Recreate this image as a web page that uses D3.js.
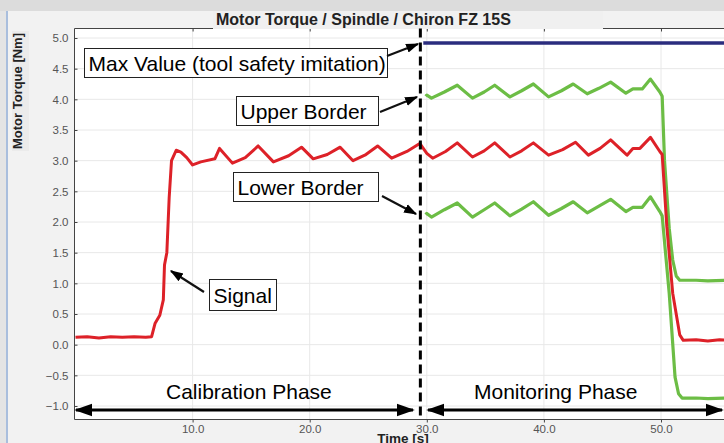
<!DOCTYPE html>
<html>
<head>
<meta charset="utf-8">
<style>
  html, body { margin:0; padding:0; background:#f2f2f2; }
  svg { display:block; font-family:"Liberation Sans", Arial, sans-serif; }
  .axis text { fill:#555; font-size:11.5px; }
  .axis path, .axis line { stroke:#444; }
</style>
<script src="https://d3js.org/d3.v7.min.js"></script>
</head>
<body>
<svg id="chart" width="724" height="443"></svg>
<script>
// data: [time s, torque Nm]
var signal = [[0,0.12],[1,0.13],[2,0.11],[3,0.13],[4,0.12],[5,0.13],[6,0.12],[6.5,0.13],[6.8,0.35],[7.2,0.48],[7.5,0.73],[7.6,1.3],[7.8,1.5],[8.0,2.4],[8.2,3.0],[8.6,3.17],[9.0,3.14],[9.5,3.05],[10.0,2.93],[10.7,2.98],[11.9,3.03],[12.3,3.2],[13.4,2.96],[14.5,3.05],[15.6,3.24],[16.9,2.98],[18.2,3.08],[19.3,3.22],[20.3,3.03],[21.5,3.1],[22.6,3.22],[23.7,3.0],[24.8,3.1],[25.8,3.24],[27.0,3.04],[28.3,3.15],[29.4,3.28],[30.0,3.12],[30.5,3.04],[31.6,3.15],[32.6,3.29],[33.9,3.06],[34.9,3.16],[35.8,3.29],[37.1,3.06],[38.1,3.16],[39.1,3.29],[40.4,3.09],[41.6,3.18],[42.7,3.30],[43.8,3.09],[44.8,3.2],[45.7,3.34],[47.1,3.09],[47.6,3.2],[48.2,3.2],[49.1,3.38],[49.9,3.15],[50.1,3.1],[50.5,1.92],[51.0,0.84],[51.6,0.16],[51.9,0.07],[53,0.08],[54,0.06],[55,0.08],[56,0.07]];

var upperBorder = [[29.9,4.05],[30.0,4.07],[30.4,4.02],[31.5,4.12],[32.6,4.23],[33.9,4.02],[34.9,4.12],[35.8,4.23],[37.1,4.04],[38.1,4.14],[39.1,4.25],[40.4,4.04],[41.5,4.14],[42.5,4.25],[43.7,4.09],[44.7,4.18],[45.7,4.28],[47.0,4.1],[47.6,4.17],[48.4,4.17],[49.1,4.33],[49.9,4.12],[50.1,4.05],[50.3,3.0],[50.7,1.9],[51.0,1.38],[51.3,1.12],[51.6,1.05],[53,1.05],[54,1.04],[56,1.05]];

var lowerBorder = [[29.9,2.12],[30.0,2.14],[30.4,2.08],[31.5,2.2],[32.6,2.31],[33.9,2.08],[34.9,2.2],[35.8,2.31],[37.1,2.1],[38.1,2.21],[39.1,2.33],[40.4,2.11],[41.5,2.22],[42.5,2.33],[43.7,2.15],[44.7,2.26],[45.7,2.37],[47.0,2.17],[47.6,2.24],[48.4,2.24],[49.1,2.41],[49.9,2.17],[50.1,2.1],[50.7,0.84],[51.2,-0.53],[51.5,-0.8],[51.8,-0.87],[53,-0.87],[54,-0.88],[56,-0.87]];

var maxValue = [[29.7,4.92],[56,4.92]];

var xTicks = [10, 20, 30, 40, 50];
var yTicks = [-1.0, -0.5, 0.0, 0.5, 1.0, 1.5, 2.0, 2.5, 3.0, 3.5, 4.0, 4.5, 5.0];
var phaseSplit = 29.45;

var svg = d3.select('#chart');

var pL = 74.5, pT = 28.5, pB = 419.5, pR = 740;
var x = d3.scaleLinear().domain([0, 56]).range([75.5, 75.5 + 56 * 11.71]);
var y = d3.scaleLinear().domain([-1, 5]).range([406, 38]);

// window chrome
svg.append('rect').attr('x', 0).attr('y', 0).attr('width', 724).attr('height', 11).attr('fill', '#dcdcdc');
svg.append('rect').attr('x', 0).attr('y', 11).attr('width', 6).attr('height', 432).attr('fill', '#e4e4e4');
svg.append('rect').attr('x', 6).attr('y', 11).attr('width', 2).attr('height', 432).attr('fill', '#a9bedd');
svg.append('rect').attr('x', 12).attr('y', 31).attr('width', 17).attr('height', 120).attr('fill', '#ebebeb');

// plot area
svg.append('rect').attr('x', pL).attr('y', pT).attr('width', pR - pL).attr('height', pB - pT).attr('fill', '#fff');

var defs = svg.append('defs');
defs.append('clipPath').attr('id', 'clip')
  .append('rect').attr('x', pL).attr('y', pT).attr('width', pR - pL).attr('height', pB - pT);

// grid
svg.append('g').selectAll('line').data(yTicks).enter().append('line')
  .attr('x1', pL).attr('x2', pR).attr('y1', function (d) { return y(d); }).attr('y2', function (d) { return y(d); })
  .attr('stroke', '#e8e8e8');
svg.append('g').selectAll('line').data(xTicks).enter().append('line')
  .attr('y1', pT).attr('y2', pB).attr('x1', function (d) { return x(d); }).attr('x2', function (d) { return x(d); })
  .attr('stroke', '#e8e8e8');

// axes
var yAxis = svg.append('g').attr('class', 'axis').attr('transform', 'translate(' + pL + ',0)')
  .call(d3.axisLeft(y).tickValues(yTicks).tickFormat(d3.format('.1f')).tickSize(-3).tickPadding(6));
yAxis.select('.domain').attr('d', 'M0,' + pT + 'V' + pB);

var xAxis = svg.append('g').attr('class', 'axis').attr('transform', 'translate(0,' + pB + ')')
  .call(d3.axisBottom(x).tickValues(xTicks).tickFormat(d3.format('.1f')).tickSize(3).tickPadding(2));
xAxis.select('.domain').attr('d', 'M' + pL + ',0H' + pR);

var topAxis = svg.append('g').attr('class', 'axis').attr('transform', 'translate(0,' + pT + ')')
  .call(d3.axisBottom(x).tickValues(xTicks).tickFormat('').tickSize(3));
topAxis.select('.domain').attr('d', 'M' + pL + ',0H' + pR);

// title
svg.append('rect').attr('x', 213).attr('y', 11).attr('width', 390).attr('height', 18).attr('fill', '#f0f0f0');
svg.append('text').attr('x', 216).attr('y', 25).attr('font-size', 16).attr('font-weight', 'bold').attr('fill', '#222')
  .text('Motor Torque / Spindle / Chiron FZ 15S');

svg.append('text').attr('transform', 'translate(22,91) rotate(-90)').attr('text-anchor', 'middle')
  .attr('font-size', 13).attr('font-weight', 'bold').attr('fill', '#222').text('Motor Torque [Nm]');
svg.append('text').attr('x', 403).attr('y', 443).attr('text-anchor', 'middle')
  .attr('font-size', 13.5).attr('font-weight', 'bold').attr('fill', '#222').text('Time [s]');

// series
var line = d3.line().x(function (d) { return x(d[0]); }).y(function (d) { return y(d[1]); });
var plot = svg.append('g').attr('clip-path', 'url(#clip)');

plot.append('path').datum(maxValue).attr('d', line).attr('fill', 'none').attr('stroke', '#2b2d7e').attr('stroke-width', 3.5);
plot.append('path').datum(upperBorder).attr('d', line).attr('fill', 'none').attr('stroke', '#6cbd45').attr('stroke-width', 3.2).attr('stroke-linejoin', 'round');
plot.append('path').datum(lowerBorder).attr('d', line).attr('fill', 'none').attr('stroke', '#6cbd45').attr('stroke-width', 3.2).attr('stroke-linejoin', 'round');
plot.append('path').datum(signal).attr('d', line).attr('fill', 'none').attr('stroke', '#dd2128').attr('stroke-width', 3).attr('stroke-linejoin', 'round');

// phase split
svg.append('line').attr('x1', x(phaseSplit)).attr('x2', x(phaseSplit)).attr('y1', pT).attr('y2', pB)
  .attr('stroke', '#000').attr('stroke-width', 3).attr('stroke-dasharray', '9,5');

// arrow heads
defs.append('marker').attr('id', 'head').attr('viewBox', '0 0 10 10').attr('refX', 9).attr('refY', 5)
  .attr('markerWidth', 6).attr('markerHeight', 6).attr('markerUnits', 'strokeWidth').attr('orient', 'auto-start-reverse')
  .append('path').attr('d', 'M0,1.5L10,5L0,8.5z').attr('fill', '#000');

// phase arrows
svg.append('line').attr('x1', 76).attr('x2', 413).attr('y1', 410).attr('y2', 410).attr('stroke', '#000').attr('stroke-width', 3)
  .attr('marker-start', 'url(#head)').attr('marker-end', 'url(#head)');
svg.append('line').attr('x1', 428).attr('x2', 722).attr('y1', 410).attr('y2', 410).attr('stroke', '#000').attr('stroke-width', 3)
  .attr('marker-start', 'url(#head)').attr('marker-end', 'url(#head)');
svg.append('text').attr('x', 166).attr('y', 399).attr('font-size', 21).attr('fill', '#000').text('Calibration Phase');
svg.append('text').attr('x', 474).attr('y', 399).attr('font-size', 21).attr('fill', '#000').text('Monitoring Phase');

// callouts
var callouts = [
  { text: 'Max Value (tool safety imitation)', box: [84.5, 48.5, 303, 29], from: [387, 56], to: [418, 44] },
  { text: 'Upper Border', box: [236.5, 96.5, 142, 29], from: [380, 112], to: [417, 97] },
  { text: 'Lower Border', box: [233.5, 172.5, 145, 29], from: [382, 196], to: [416, 214] },
  { text: 'Signal', box: [209.5, 279.5, 67, 31], from: [204, 292], to: [171, 271] }
];
callouts.forEach(function (c) {
  svg.append('rect').attr('x', c.box[0]).attr('y', c.box[1]).attr('width', c.box[2]).attr('height', c.box[3])
    .attr('fill', '#fff').attr('stroke', '#222').attr('stroke-width', 1);
  svg.append('text').attr('x', c.box[0] + 4).attr('y', c.box[1] + c.box[3] / 2 + 7.5).attr('font-size', 21).attr('fill', '#000').text(c.text);
  svg.append('line').attr('x1', c.from[0]).attr('y1', c.from[1]).attr('x2', c.to[0]).attr('y2', c.to[1])
    .attr('stroke', '#111').attr('stroke-width', 2.2).attr('marker-end', 'url(#head)');
});
</script>
</body>
</html>
